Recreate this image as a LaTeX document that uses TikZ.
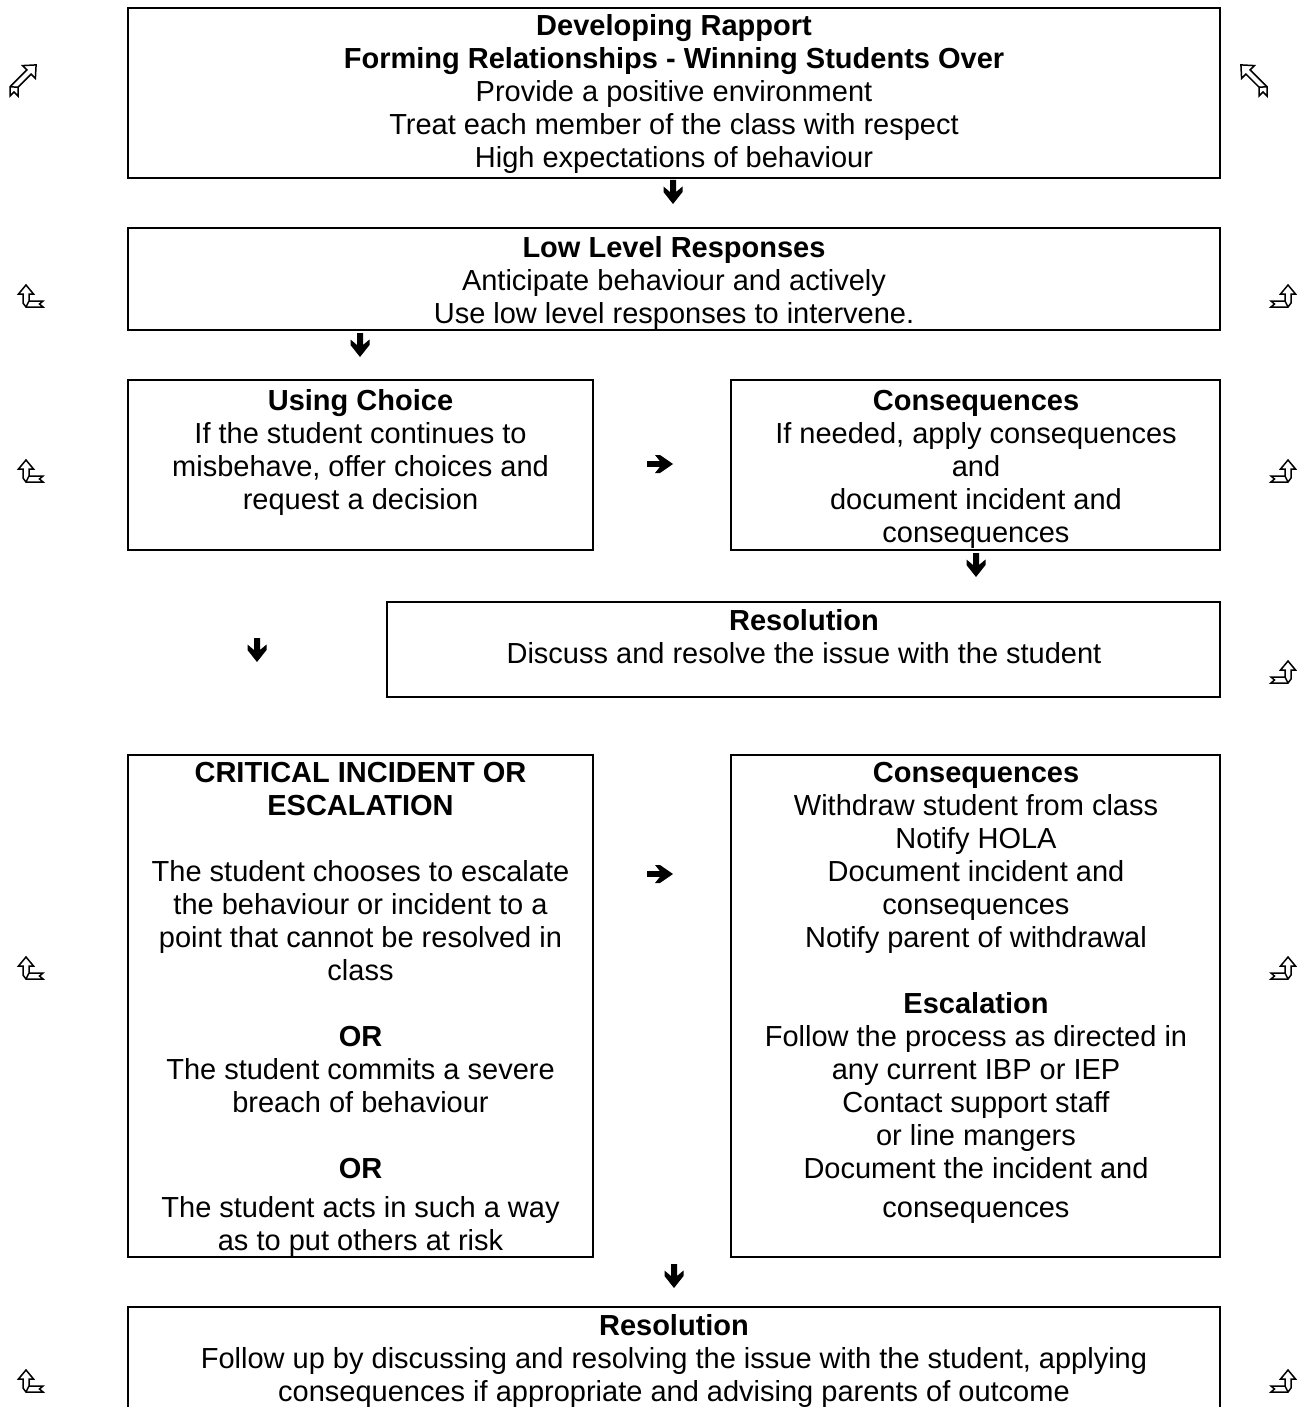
\documentclass[tikz,border=0pt]{standalone}
\usepackage{fontspec}
\setmainfont{Liberation Sans}
\begin{document}
\begin{tikzpicture}[x=1pt,y=-1pt,
  box/.style={draw, line width=2.6pt, rectangle, inner sep=0pt, outer sep=0pt, anchor=north west},
  txt/.style={anchor=north, inner sep=0pt, outer sep=0pt, align=center, font=\fontsize{29}{33}\selectfont},
  glyph/.style={draw, line width=1.5pt, fill=white, line join=miter},
  darrow/.pic={\fill (-3,0) -- (3,0) -- (3,12) -- (9.5,6.5) -- (9.5,12) -- (0,24) -- (-9.5,12) -- (-9.5,6.5) -- (-3,12) -- cycle;},
  rarrow/.pic={\fill (0,-2.8) -- (13,-2.8) -- (8,-9) -- (13,-9) -- (26,0) -- (13,9) -- (8,9) -- (13,2.8) -- (0,2.8) -- cycle;},
  glyphD/.pic={\draw[glyph] (-16,11) -- (1,11) -- (4,7) -- (4,-2) -- (8.5,-2) -- (1,-11) -- (-6.5,-2) -- (-2,-2) -- (-2,5) -- (-16,5) -- (-12.5,8) -- cycle;
               \draw[glyph] (-2,5) -- (1,11);},
  glyphA/.pic={\draw[glyph] (-15,18) -- (-15,8.8) -- (1.9,-8.1) -- (-2.4,-12.4) -- (11.1,-13.1) -- (10.4,0.4) -- (6.1,-3.9) -- (-7,9.2) -- (-7,18) -- (-11,14) -- cycle;
               \draw[glyph] (-15,8.8) -- (-7,9.2);},
]
\useasboundingbox (0,0) rectangle (1312,1407);
\clip (0,0) rectangle (1312,1407);
\fill[white] (0,0) rectangle (1312,1407);

% boxes
\node[box, minimum width=1092pt, minimum height=170pt] (b1) at (128,8) {};
\node[box, minimum width=1092pt, minimum height=102pt] (b2) at (128,228) {};
\node[box, minimum width=465pt, minimum height=170pt] (b3) at (128,380) {};
\node[box, minimum width=489pt, minimum height=170pt] (b4) at (731,380) {};
\node[box, minimum width=833pt, minimum height=95pt] (b5) at (387,602) {};
\node[box, minimum width=465pt, minimum height=502pt] (b6) at (128,755) {};
\node[box, minimum width=489pt, minimum height=502pt] (b7) at (731,755) {};
\node[box, minimum width=1092pt, minimum height=140pt] (b8) at (128,1307) {};

% texts
\node[txt] (t1) at (674,12.9) {\strut\textbf{Developing Rapport}\\ \textbf{Forming Relationships - Winning Students Over}\\ Provide a positive environment\\ Treat each member of the class with respect\\ High expectations of behaviour};
\node[txt] (t2) at (674,234) {\strut\textbf{Low Level Responses}\\ Anticipate behaviour and actively\\ Use low level responses to intervene.};
\node[txt] (t3) at (360.5,387) {\strut\textbf{Using Choice}\\ If the student continues to\\ misbehave, offer choices and\\ request a decision};
\node[txt] (t4) at (976,387) {\strut\textbf{Consequences}\\ If needed, apply consequences\\ and\\ document incident and\\ consequences};
\node[txt] (t5) at (804,607) {\strut\textbf{Resolution}\\ Discuss and resolve the issue with the student};
\node[txt] (t6) at (360.5,759) {\strut\textbf{CRITICAL INCIDENT OR}\\ \textbf{ESCALATION}\\[33pt] The student chooses to escalate\\ the behaviour or incident to a\\ point that cannot be resolved in\\ class\\[33pt] \textbf{OR}\\ The student commits a severe\\ breach of behaviour\\[33pt] \textbf{OR}\\[6pt] The student acts in such a way\\ as to put others at risk};
\node[txt] (t7) at (976,759) {\strut\textbf{Consequences}\\ Withdraw student from class\\ Notify HOLA\\ Document incident and\\ consequences\\ Notify parent of withdrawal\\[33pt] \textbf{Escalation}\\ Follow the process as directed in\\ any current IBP or IEP\\ Contact support staff\\ or line mangers\\ Document the incident and\\[6pt] consequences};
\node[txt] (t8) at (674,1312) {\strut\textbf{Resolution}\\ Follow up by discussing and resolving the issue with the student, applying\\ consequences if appropriate and advising parents of outcome};

% arrow glyphs
\pic (a1) at (673,180) {darrow};
\pic (a2) at (360,333) {darrow};
\pic (a3) at (976,553) {darrow};
\pic (a4) at (257,638) {darrow};
\pic (a5) at (674,1264) {darrow};
\pic (r1) at (647,464) {rarrow};
\pic (r2) at (647,874) {rarrow};

% margin glyphs
\pic (gA) at (25,78) {glyphA};
\pic[xscale=-1] (gB) at (1252,78) {glyphA};
\pic[xscale=-1] (gC1) at (27,296) {glyphD};
\pic[xscale=-1] (gC2) at (27,471) {glyphD};
\pic[xscale=-1] (gC3) at (27,968) {glyphD};
\pic[xscale=-1] (gC4) at (27,1381) {glyphD};
\pic (gD1) at (1287,296) {glyphD};
\pic (gD2) at (1287,471) {glyphD};
\pic (gD3) at (1287,672) {glyphD};
\pic (gD4) at (1287,968) {glyphD};
\pic (gD5) at (1287,1381) {glyphD};
\end{tikzpicture}
\end{document}
